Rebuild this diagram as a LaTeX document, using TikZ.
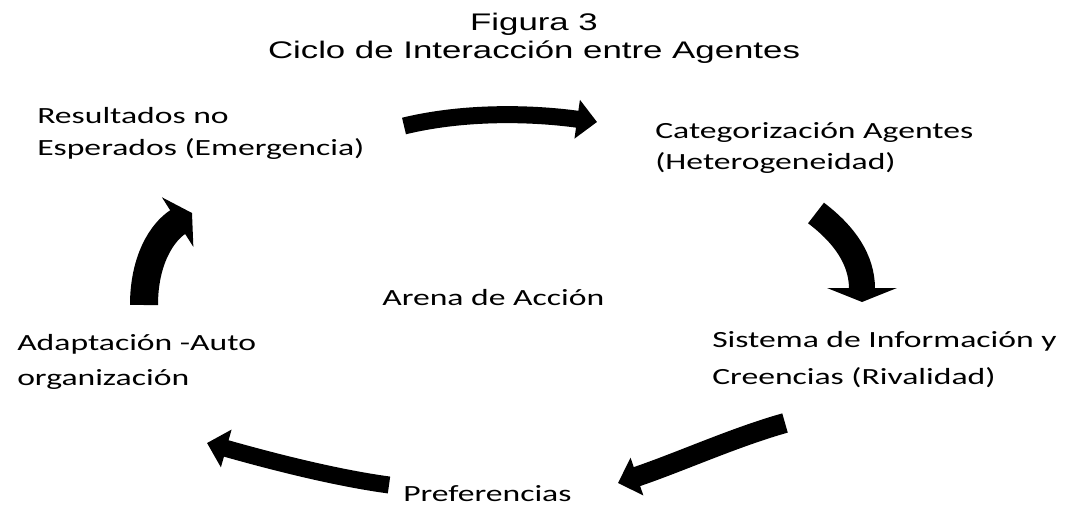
\documentclass[tikz,border=0pt]{standalone}
\usepackage{fontspec}
\setmainfont{Carlito}[FakeStretch=1.45]
\newfontfamily\titlefont{Liberation Sans}[FakeStretch=1.45]
\usetikzlibrary{arrows.meta}

\tikzset{
  lbl/.style={anchor=base west, align=left, inner sep=0pt,
    font=\fontsize{17.4}{24}\selectfont},
  ttl/.style={anchor=base, inner sep=0pt,
    font=\titlefont\fontsize{18}{21}\selectfont},
  flow/.style={draw=black, line width=#1}
}

\begin{document}
\begin{tikzpicture}[x=0.75pt,y=-0.75pt]
  \useasboundingbox (0,0) rectangle (1069,510);
  % title
  \node[ttl] (fig) at (534,31) {Figura 3};
  \node[ttl] (cap) at (534,59) {Ciclo de Interacción entre Agentes};
  % stages of the cycle (anchored at the last line)
  \node[lbl] (res) at (37,155) {Resultados no\\Esperados (Emergencia)};
  \node[lbl] (cat) at (655,169) {Categorización Agentes\\[-0.75pt](Heterogeneidad)};
  \node[lbl] (sis) at (712,384) {Sistema de Información y\\[3.75pt]Creencias (Rivalidad)};
  \node[lbl] (pref) at (403,501) {Preferencias};
  \node[lbl] (adap) at (17,385) {Adaptación -Auto\\[2.25pt]organización};
  \node[lbl] (arena) at (382,305) {Arena de Acción};
  % arrow ends
  \coordinate (a1) at (404,126);  \coordinate (b1) at (597,122);
  \coordinate (a2) at (816,213);  \coordinate (b2) at (862,302);
  \coordinate (a3) at (785,423);  \coordinate (b3) at (618,483);
  \coordinate (a4) at (389,485);  \coordinate (b4) at (207,443);
  \coordinate (a5) at (144,305);  \coordinate (b5) at (192,213);
  % arrows
  \draw[flow=12.75pt, -{Triangle[length=15pt,width=28.5pt]}]
    (a1) .. controls (470,110) and (540,114) .. (b1);
  \draw[flow=19.5pt, -{Triangle[length=10.5pt,width=52pt]}]
    (a2) .. controls (845,235) and (862,260) .. (b2);
  \draw[flow=15pt, -{Triangle[length=15pt,width=29pt]}]
    (a3) .. controls (735,437) and (680,462) .. (b3);
  \draw[flow=12.75pt, -{Triangle[length=15pt,width=28.5pt]}]
    (a4) .. controls (330,477) and (260,458) .. (b4);
  \draw[flow=21pt, -{Triangle[length=12.75pt,width=43.5pt]}]
    (a5) .. controls (144,260) and (162,232) .. (b5);
\end{tikzpicture}
\end{document}
